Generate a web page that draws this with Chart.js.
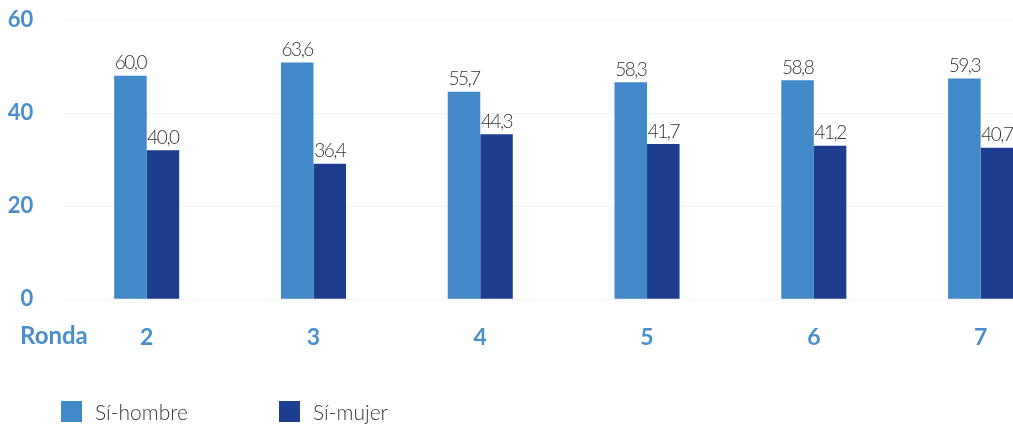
<!DOCTYPE html>
<html lang="es">
<head>
<meta charset="utf-8">
<title>Ronda</title>
<script src="https://cdn.jsdelivr.net/npm/chart.js@4.4.0/dist/chart.umd.min.js"></script>
<style>
  html, body { margin: 0; padding: 0; background: #fff; overflow: hidden; }
  #wrap { position: relative; width: 1013px; height: 426px; overflow: hidden; }
  #chart { position: absolute; left: 0; top: 0; }
  .legend { position: absolute; top: 401px; font-family: Lato, "Open Sans", sans-serif; font-weight: 300; font-size: 21px; color: #3a3a3a; line-height: 21px; display: flex; align-items: center; }
  .legend .sw { width: 21px; height: 21px; margin-right: 13px; }
</style>
</head>
<body>
<div id="wrap">
  <canvas id="chart" width="1064" height="426"></canvas>
  <div id="legend"></div>
</div>
<script>
// categories and values as printed on the chart
var rondas = ['2', '3', '4', '5', '6', '7'];
var siHombre = [60.0, 63.6, 55.7, 58.3, 58.8, 59.3];
var siMujer = [40.0, 36.4, 44.3, 41.7, 41.2, 40.7];
var seriesNames = ['Sí-hombre', 'Sí-mujer'];
var yTickLabels = ['0', '20', '40', '60'];

var COLORS = {
  light: '#4189C8',
  dark: '#1D3E8F',
  axis: '#4A8ECB',
  label: '#333333',
  grid: '#F3F3F3'
};

// the printed axis runs 0-60 but the bars are drawn on a 0-75 frame
var AXIS_MAX = 75;
var AXIS_STEP = AXIS_MAX / (yTickLabels.length - 1);

function fmt(v) {
  return v.toFixed(1).replace('.', ',');
}

var valueLabels = {
  id: 'valueLabels',
  afterDatasetsDraw: function(chart) {
    var ctx = chart.ctx;
    ctx.save();
    ctx.font = '300 19px Lato, "Open Sans", sans-serif';
    ctx.letterSpacing = '-1.5px';
    ctx.fillStyle = COLORS.label;
    ctx.textAlign = 'center';
    ctx.textBaseline = 'bottom';
    chart.data.datasets.forEach(function(ds, i) {
      chart.getDatasetMeta(i).data.forEach(function(bar, j) {
        ctx.fillText(fmt(ds.data[j]), bar.x, bar.y - 3);
      });
    });
    ctx.restore();
  }
};

var rondaTitle = {
  id: 'rondaTitle',
  afterDraw: function(chart) {
    var ctx = chart.ctx;
    ctx.save();
    ctx.font = 'bold 24px Lato, "Open Sans", sans-serif';
    ctx.fillStyle = COLORS.axis;
    ctx.textAlign = 'left';
    ctx.textBaseline = 'top';
    ctx.fillText('Ronda', 20, chart.chartArea.bottom + 25);
    ctx.restore();
  }
};

new Chart(document.getElementById('chart').getContext('2d'), {
  type: 'bar',
  data: {
    labels: rondas,
    datasets: [
      { label: seriesNames[0], data: siHombre, backgroundColor: COLORS.light },
      { label: seriesNames[1], data: siMujer, backgroundColor: COLORS.dark }
    ]
  },
  options: {
    responsive: false,
    animation: false,
    layout: { padding: { top: 20, left: 0, right: 0, bottom: 0 } },
    datasets: { bar: { categoryPercentage: 0.39, barPercentage: 1.0 } },
    plugins: { legend: { display: false }, tooltip: { enabled: false } },
    scales: {
      x: {
        grid: { display: false },
        border: { display: false },
        ticks: {
          color: COLORS.axis,
          padding: 16,
          font: { family: 'Lato, "Open Sans", sans-serif', size: 23, weight: 'bold' }
        },
        afterFit: function(scale) { scale.height = 126.7; }
      },
      y: {
        min: 0,
        max: AXIS_MAX,
        grid: { color: COLORS.grid, drawTicks: false },
        border: { display: false },
        ticks: {
          stepSize: AXIS_STEP,
          color: COLORS.axis,
          padding: 30,
          font: { family: 'Lato, "Open Sans", sans-serif', size: 22, weight: 'bold' },
          callback: function(v) { return yTickLabels[Math.round(v / AXIS_STEP)]; }
        },
        afterFit: function(scale) {
          scale.width = 63.3;
          scale.paddingTop = 0;
          scale.paddingBottom = 0;
        }
      }
    }
  },
  plugins: [valueLabels, rondaTitle]
});

// legend
var legendEl = document.getElementById('legend');
var legendX = [61, 279];
[COLORS.light, COLORS.dark].forEach(function(c, i) {
  var item = document.createElement('div');
  item.className = 'legend';
  item.style.left = legendX[i] + 'px';
  item.innerHTML = '<span class="sw" style="background:' + c + '"></span><span>' + seriesNames[i] + '</span>';
  legendEl.appendChild(item);
});
</script>
</body>
</html>
